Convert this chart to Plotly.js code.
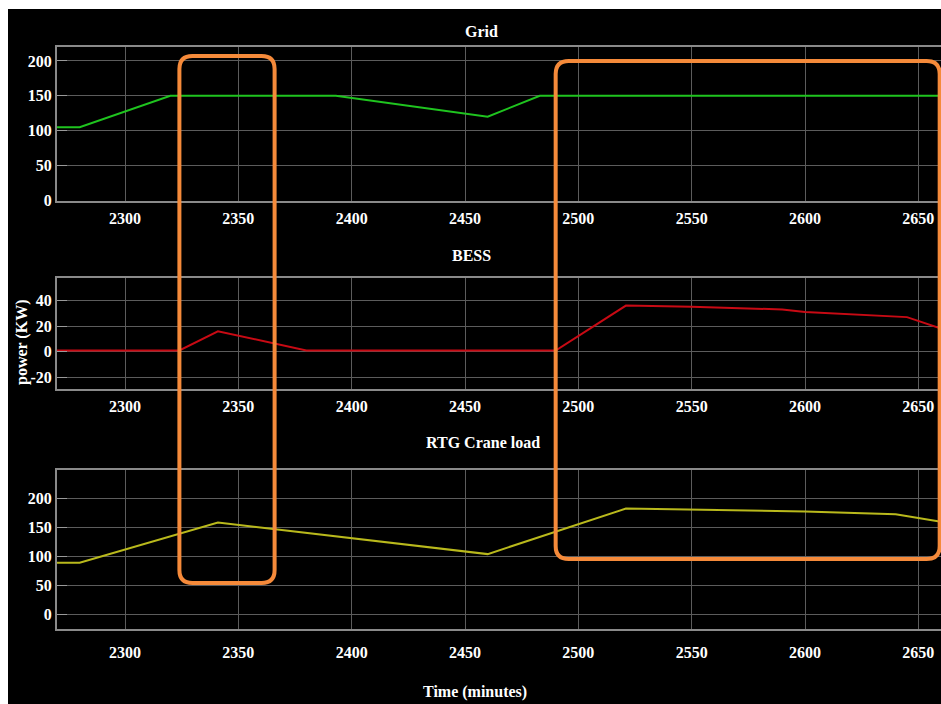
<!DOCTYPE html>
<html>
<head>
<meta charset="utf-8">
<script src="https://cdn.plot.ly/plotly-3.0.1.min.js"></script>
<style>
html,body{margin:0;padding:0;background:#ffffff;overflow:hidden;}
#chart{position:absolute;left:8px;top:9px;width:933px;height:695px;}
</style>
</head>
<body>
<div id="chart"></div>
<script>
// ---- data ----
var gridTime = [2270, 2280, 2320, 2393, 2460, 2483, 2660];
var gridKW   = [105, 105, 150, 150, 120, 150, 150];

var bessTime = [2270, 2324, 2341, 2380, 2490, 2521, 2550, 2590, 2600, 2625, 2645, 2660];
var bessKW   = [1, 1, 16, 1, 1, 36, 35, 33, 31, 29, 27, 18];

var rtgTime = [2270, 2280, 2341, 2460, 2521, 2600, 2640, 2660];
var rtgKW   = [89, 89, 159, 104, 183, 178, 173, 160];

var xTicks = [2300, 2350, 2400, 2450, 2500, 2550, 2600, 2650];
var gridTicks = [0, 50, 100, 150, 200];
var bessTicks = [-20, 0, 20, 40];
var rtgTicks = [0, 50, 100, 150, 200];

var panelTitles = ['Grid', 'BESS', 'RTG Crane load'];
// highlighted time windows (minutes)
var highlightStart = [2324, 2490];
var highlightEnd   = [2366, 2660];

// ---- styling ----
var xRange = [2270, 2660];
var font = {family: 'Liberation Serif, Times New Roman, serif', color: '#ffffff', size: 16};
var gridCol = '#5c5c5c';
var lineCol = '#8a8a8a';

function xAxis(anchor, standoff) {
  return {
    range: xRange, anchor: anchor, tickvals: xTicks, ticktext: xTicks.map(String),
    showgrid: true, gridcolor: gridCol, gridwidth: 1,
    showline: true, linecolor: lineCol, linewidth: 2, mirror: true,
    ticks: '', zeroline: false, ticklabelstandoff: standoff,
    tickfont: {family: font.family, size: 16, color: '#ffffff', weight: 'bold'}
  };
}
function yAxis(anchor, domain, range, ticks) {
  return {
    domain: domain, range: range, anchor: anchor, tickvals: ticks, ticktext: ticks.map(String),
    showgrid: true, gridcolor: gridCol, gridwidth: 1,
    showline: true, linecolor: lineCol, linewidth: 2, mirror: true,
    ticks: 'inside', ticklen: 10, tickcolor: '#9a9a9a', tickwidth: 1,
    zeroline: false,
    tickfont: {family: font.family, size: 16, color: '#ffffff', weight: 'bold'}
  };
}

var traces = [
  {x: gridTime, y: gridKW, xaxis: 'x', yaxis: 'y', mode: 'lines',
   line: {color: '#1fc41f', width: 2}},
  {x: bessTime, y: bessKW, xaxis: 'x2', yaxis: 'y2', mode: 'lines',
   line: {color: '#c80a14', width: 2}},
  {x: rtgTime, y: rtgKW, xaxis: 'x3', yaxis: 'y3', mode: 'lines',
   line: {color: '#b9b91c', width: 2}}
];

var dom = [[0.7354, 1.0], [0.4124, 0.6031], [0, 0.2732]];

// rounded highlight boxes (paper coords)
var boxTop = [0.9845, 0.976];
var boxBottom = [0.079, 0.1203];
function toPaperX(t) { return (t - xRange[0]) / (xRange[1] - xRange[0]); }
var rx = 13 / 884, ry = 13 / 582;
function roundedPath(x0, x1, y0, y1) {
  return 'M ' + (x0 + rx) + ',' + y1 +
    ' L ' + (x1 - rx) + ',' + y1 +
    ' Q ' + x1 + ',' + y1 + ' ' + x1 + ',' + (y1 - ry) +
    ' L ' + x1 + ',' + (y0 + ry) +
    ' Q ' + x1 + ',' + y0 + ' ' + (x1 - rx) + ',' + y0 +
    ' L ' + (x0 + rx) + ',' + y0 +
    ' Q ' + x0 + ',' + y0 + ' ' + x0 + ',' + (y0 + ry) +
    ' L ' + x0 + ',' + (y1 - ry) +
    ' Q ' + x0 + ',' + y1 + ' ' + (x0 + rx) + ',' + y1 + ' Z';
}
var shapes = highlightStart.map(function(s, i) {
  var x0 = toPaperX(s), x1 = Math.min(toPaperX(highlightEnd[i]), 0.9985);
  return {type: 'path', xref: 'paper', yref: 'paper', layer: 'above',
    path: roundedPath(x0, x1, boxBottom[i], boxTop[i]),
    line: {color: '#f58a3a', width: 4}, fillcolor: 'rgba(0,0,0,0)'};
});

var titleFont = {family: font.family, size: 16, color: '#ffffff', weight: 'bold'};
var annotations = [
  {text: panelTitles[0], x: 0.480, y: 1.026},
  {text: panelTitles[1], x: 0.469, y: 0.6426},
  {text: panelTitles[2], x: 0.482, y: 0.3213},
  {text: 'Time (minutes)', x: 0.473, y: -0.108}
].map(function(a) {
  return {text: a.text, x: a.x, y: a.y, xref: 'paper', yref: 'paper',
    showarrow: false, xanchor: 'center', yanchor: 'middle', font: titleFont};
});
annotations.push({text: 'power (KW)', x: -0.0396, y: 0.4931, xref: 'paper', yref: 'paper',
  showarrow: false, textangle: -90, xanchor: 'center', yanchor: 'middle', font: titleFont});

var layout = {
  width: 933, height: 695,
  margin: {l: 49, r: 0, t: 38, b: 75},
  paper_bgcolor: '#000000', plot_bgcolor: '#000000',
  font: font, showlegend: false,
  xaxis: xAxis('y', 2), xaxis2: xAxis('y2', 2), xaxis3: xAxis('y3', 8),
  yaxis: yAxis('x', dom[0], [-1, 220], gridTicks),
  yaxis2: yAxis('x2', dom[1], [-29, 57.5], bessTicks),
  yaxis3: yAxis('x3', dom[2], [-26, 250], rtgTicks),
  shapes: shapes,
  annotations: annotations
};

Plotly.newPlot('chart', traces, layout, {displayModeBar: false, staticPlot: true});
</script>
</body>
</html>
